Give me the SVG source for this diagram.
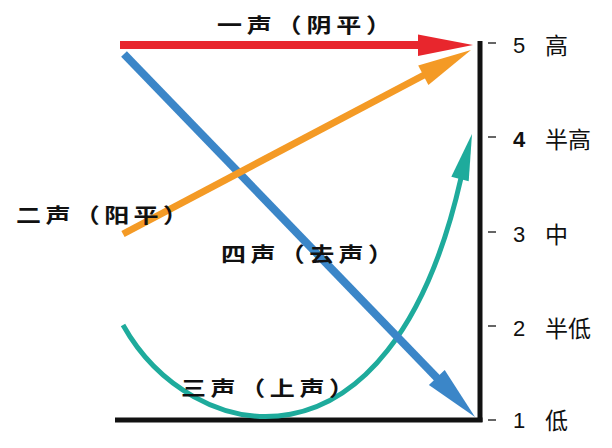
<svg xmlns="http://www.w3.org/2000/svg" width="612" height="448" viewBox="0 0 612 448">
<style>
.tone{font-family:"Noto Sans CJK SC","Noto Sans",sans-serif;font-weight:bold;font-size:25px;fill:#111}
.num{font-family:"Liberation Sans",Arial,sans-serif;font-size:22px;fill:#111}
.lvl{font-family:"Noto Sans CJK SC",sans-serif;font-size:23px;fill:#111}
.tick{stroke:#333;stroke-width:1.5}
.ln{fill:none;stroke-linecap:butt}
</style>
<rect width="612" height="448" fill="#fff"/>
<g id="axis">
<line x1="480" y1="41" x2="480" y2="422" stroke="#111" stroke-width="5"/>
<line x1="115" y1="420" x2="482.5" y2="420" stroke="#111" stroke-width="5"/>
</g>
<g id="scale">
<g id="level5"><line class="tick" x1="488" y1="43" x2="496" y2="43"/><text class="num" x="513" y="53">5</text><text class="lvl" x="545" y="54">高</text></g>
<g id="level4"><line class="tick" x1="488" y1="137" x2="496" y2="137"/><text class="num" x="513" y="147" font-weight="bold">4</text><text class="lvl" x="545" y="148">半高</text></g>
<g id="level3"><line class="tick" x1="488" y1="232" x2="496" y2="232"/><text class="num" x="513" y="242">3</text><text class="lvl" x="545" y="243">中</text></g>
<g id="level2"><line class="tick" x1="488" y1="326" x2="496" y2="326"/><text class="num" x="513" y="336">2</text><text class="lvl" x="545" y="337">半低</text></g>
<g id="level1"><line class="tick" x1="488" y1="420" x2="496" y2="420"/><text class="num" x="513" y="428">1</text><text class="lvl" x="545" y="429">低</text></g>
</g>
<g id="connectors">
<g id="tone3">
<path class="ln" d="M123,325 C190,445 390,492 461,178" stroke="#1eab9c" stroke-width="5"/>
<polygon points="472,134 468.7,181.3 451.3,176.7" fill="#1eab9c"/>
</g>
<g id="tone4">
<line class="ln" x1="124" y1="54" x2="439" y2="380" stroke="#3b86c8" stroke-width="8"/>
<polygon points="475,417 428.9,385.1 444.7,369.9" fill="#3b86c8"/>
</g>
<g id="tone2">
<line class="ln" x1="123" y1="234" x2="426" y2="74" stroke="#f49a25" stroke-width="7"/>
<polygon points="471,50 428.4,84.9 418.2,65.5" fill="#f49a25"/>
</g>
<g id="tone1">
<line class="ln" x1="120" y1="45" x2="421" y2="45" stroke="#e8262d" stroke-width="8"/>
<polygon points="473,45 418,34.5 418,56" fill="#e8262d"/>
</g>
</g>
<g id="labels">
<text class="tone" transform="translate(217,33) scale(1,0.82)" textLength="174" lengthAdjust="spacing">一声（阴平）</text>
<text class="tone" transform="translate(16,223) scale(1,0.82)" textLength="172" lengthAdjust="spacing">二声（阳平）</text>
<text class="tone" transform="translate(221,262) scale(1,0.82)" textLength="172" lengthAdjust="spacing">四声（去声）</text>
<text class="tone" transform="translate(181,396) scale(1,0.82)" textLength="173" lengthAdjust="spacing">三声（上声）</text>
</g>
</svg>
